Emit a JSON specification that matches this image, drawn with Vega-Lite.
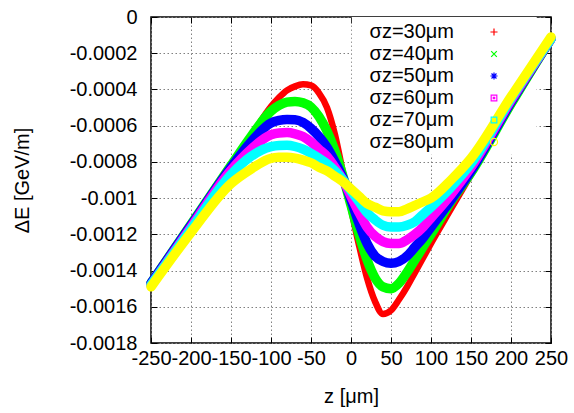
{
  "$schema": "https://vega.github.io/schema/vega-lite/v6.json",
  "width": 400,
  "height": 326,
  "autosize": {"type": "none"},
  "padding": {"left": 151, "top": 17, "right": 23, "bottom": 70},
  "background": "white",
  "config": {
    "view": {"stroke": "black", "strokeWidth": 1.5},
    "font": "Liberation Sans",
    "axis": {
      "labelFont": "Liberation Sans", "labelFontSize": 20, "labelColor": "black",
      "titleFont": "Liberation Sans", "titleFontSize": 20, "titleFontWeight": "normal", "titleColor": "black",
      "domain": false, "ticks": true, "tickSize": -6, "tickColor": "black", "tickWidth": 1, "grid": true, "gridColor": "#808080", "gridDash": [1.5, 2.5], "gridOpacity": 1, "gridWidth": 1,
      "labelOverlap": false, "labelFlush": false, "tickCount": 30
    },
    "legend": {
      "orient": "none", "legendX": 333, "legendY": 5, "labelAlign": "right", "labelOffset": -50,
      "labelFont": "Liberation Sans", "labelFontSize": 20, "labelColor": "black", "labelLimit": 0,
      "symbolSize": 50, "symbolStrokeWidth": 1.2, "symbolOpacity": 1, "symbolFillColor": "transparent", "rowPadding": 2, "title": null
    }
  },
  "resolve": {"axis": {"x": "independent", "y": "independent"}},
  "datasets": {
    "curves": [
      {"z": -250, "dE": -0.00147, "sigma": "σz=30μm"}, {"z": -200, "dE": -0.001145, "sigma": "σz=30μm"}, {"z": -150, "dE": -0.00082, "sigma": "σz=30μm"}, {"z": -125, "dE": -0.000658, "sigma": "σz=30μm"}, {"z": -100, "dE": -0.000495, "sigma": "σz=30μm"}, {"z": -90, "dE": -0.000445, "sigma": "σz=30μm"}, {"z": -80, "dE": -0.000405, "sigma": "σz=30μm"}, {"z": -70, "dE": -0.000383, "sigma": "σz=30μm"}, {"z": -60, "dE": -0.000372, "sigma": "σz=30μm"}, {"z": -50, "dE": -0.000378, "sigma": "σz=30μm"}, {"z": -40, "dE": -0.00042, "sigma": "σz=30μm"}, {"z": -30, "dE": -0.0005, "sigma": "σz=30μm"}, {"z": -20, "dE": -0.00065, "sigma": "σz=30μm"}, {"z": -10, "dE": -0.00086, "sigma": "σz=30μm"}, {"z": 0, "dE": -0.00106, "sigma": "σz=30μm"}, {"z": 10, "dE": -0.00126, "sigma": "σz=30μm"}, {"z": 20, "dE": -0.00144, "sigma": "σz=30μm"}, {"z": 30, "dE": -0.00157, "sigma": "σz=30μm"}, {"z": 40, "dE": -0.00164, "sigma": "σz=30μm"}, {"z": 50, "dE": -0.00162, "sigma": "σz=30μm"}, {"z": 60, "dE": -0.00156, "sigma": "σz=30μm"}, {"z": 70, "dE": -0.00149, "sigma": "σz=30μm"}, {"z": 80, "dE": -0.00141, "sigma": "σz=30μm"}, {"z": 90, "dE": -0.00133, "sigma": "σz=30μm"}, {"z": 100, "dE": -0.00125, "sigma": "σz=30μm"}, {"z": 125, "dE": -0.00106, "sigma": "σz=30μm"}, {"z": 150, "dE": -0.00087, "sigma": "σz=30μm"}, {"z": 200, "dE": -0.00049, "sigma": "σz=30μm"}, {"z": 250, "dE": -0.00013, "sigma": "σz=30μm"},
      {"z": -250, "dE": -0.00147, "sigma": "σz=40μm"}, {"z": -200, "dE": -0.001145, "sigma": "σz=40μm"}, {"z": -150, "dE": -0.00082, "sigma": "σz=40μm"}, {"z": -125, "dE": -0.00066, "sigma": "σz=40μm"}, {"z": -100, "dE": -0.00052, "sigma": "σz=40μm"}, {"z": -90, "dE": -0.000488, "sigma": "σz=40μm"}, {"z": -80, "dE": -0.00047, "sigma": "σz=40μm"}, {"z": -70, "dE": -0.000466, "sigma": "σz=40μm"}, {"z": -60, "dE": -0.000474, "sigma": "σz=40μm"}, {"z": -50, "dE": -0.000497, "sigma": "σz=40μm"}, {"z": -40, "dE": -0.00055, "sigma": "σz=40μm"}, {"z": -30, "dE": -0.00063, "sigma": "σz=40μm"}, {"z": -20, "dE": -0.00074, "sigma": "σz=40μm"}, {"z": -10, "dE": -0.00088, "sigma": "σz=40μm"}, {"z": 0, "dE": -0.00104, "sigma": "σz=40μm"}, {"z": 10, "dE": -0.0012, "sigma": "σz=40μm"}, {"z": 20, "dE": -0.00134, "sigma": "σz=40μm"}, {"z": 30, "dE": -0.00144, "sigma": "σz=40μm"}, {"z": 40, "dE": -0.00149, "sigma": "σz=40μm"}, {"z": 50, "dE": -0.0015, "sigma": "σz=40μm"}, {"z": 60, "dE": -0.00147, "sigma": "σz=40μm"}, {"z": 70, "dE": -0.00141, "sigma": "σz=40μm"}, {"z": 80, "dE": -0.00134, "sigma": "σz=40μm"}, {"z": 90, "dE": -0.00127, "sigma": "σz=40μm"}, {"z": 100, "dE": -0.0012, "sigma": "σz=40μm"}, {"z": 125, "dE": -0.00102, "sigma": "σz=40μm"}, {"z": 150, "dE": -0.00086, "sigma": "σz=40μm"}, {"z": 200, "dE": -0.00048, "sigma": "σz=40μm"}, {"z": 250, "dE": -0.00012, "sigma": "σz=40μm"},
      {"z": -250, "dE": -0.00147, "sigma": "σz=50μm"}, {"z": -200, "dE": -0.00115, "sigma": "σz=50μm"}, {"z": -150, "dE": -0.00083, "sigma": "σz=50μm"}, {"z": -125, "dE": -0.00069, "sigma": "σz=50μm"}, {"z": -100, "dE": -0.000585, "sigma": "σz=50μm"}, {"z": -90, "dE": -0.000571, "sigma": "σz=50μm"}, {"z": -80, "dE": -0.000566, "sigma": "σz=50μm"}, {"z": -70, "dE": -0.000567, "sigma": "σz=50μm"}, {"z": -60, "dE": -0.000582, "sigma": "σz=50μm"}, {"z": -50, "dE": -0.000615, "sigma": "σz=50μm"}, {"z": -40, "dE": -0.00066, "sigma": "σz=50μm"}, {"z": -30, "dE": -0.00072, "sigma": "σz=50μm"}, {"z": -20, "dE": -0.0008, "sigma": "σz=50μm"}, {"z": -10, "dE": -0.00089, "sigma": "σz=50μm"}, {"z": 0, "dE": -0.00101, "sigma": "σz=50μm"}, {"z": 10, "dE": -0.00114, "sigma": "σz=50μm"}, {"z": 20, "dE": -0.00125, "sigma": "σz=50μm"}, {"z": 30, "dE": -0.00132, "sigma": "σz=50μm"}, {"z": 40, "dE": -0.00135, "sigma": "σz=50μm"}, {"z": 50, "dE": -0.00136, "sigma": "σz=50μm"}, {"z": 60, "dE": -0.00135, "sigma": "σz=50μm"}, {"z": 70, "dE": -0.00132, "sigma": "σz=50μm"}, {"z": 80, "dE": -0.00127, "sigma": "σz=50μm"}, {"z": 90, "dE": -0.00122, "sigma": "σz=50μm"}, {"z": 100, "dE": -0.00116, "sigma": "σz=50μm"}, {"z": 125, "dE": -0.00101, "sigma": "σz=50μm"}, {"z": 150, "dE": -0.00085, "sigma": "σz=50μm"}, {"z": 200, "dE": -0.00047, "sigma": "σz=50μm"}, {"z": 250, "dE": -0.00012, "sigma": "σz=50μm"},
      {"z": -250, "dE": -0.00148, "sigma": "σz=60μm"}, {"z": -200, "dE": -0.00116, "sigma": "σz=60μm"}, {"z": -150, "dE": -0.000845, "sigma": "σz=60μm"}, {"z": -125, "dE": -0.00073, "sigma": "σz=60μm"}, {"z": -100, "dE": -0.00065, "sigma": "σz=60μm"}, {"z": -90, "dE": -0.00064, "sigma": "σz=60μm"}, {"z": -80, "dE": -0.000638, "sigma": "σz=60μm"}, {"z": -70, "dE": -0.000645, "sigma": "σz=60μm"}, {"z": -60, "dE": -0.00066, "sigma": "σz=60μm"}, {"z": -50, "dE": -0.00069, "sigma": "σz=60μm"}, {"z": -40, "dE": -0.00073, "sigma": "σz=60μm"}, {"z": -30, "dE": -0.00077, "sigma": "σz=60μm"}, {"z": -20, "dE": -0.00083, "sigma": "σz=60μm"}, {"z": -10, "dE": -0.0009, "sigma": "σz=60μm"}, {"z": 0, "dE": -0.00099, "sigma": "σz=60μm"}, {"z": 10, "dE": -0.00108, "sigma": "σz=60μm"}, {"z": 20, "dE": -0.00116, "sigma": "σz=60μm"}, {"z": 30, "dE": -0.00121, "sigma": "σz=60μm"}, {"z": 40, "dE": -0.00124, "sigma": "σz=60μm"}, {"z": 50, "dE": -0.00125, "sigma": "σz=60μm"}, {"z": 60, "dE": -0.00125, "sigma": "σz=60μm"}, {"z": 70, "dE": -0.00123, "sigma": "σz=60μm"}, {"z": 80, "dE": -0.0012, "sigma": "σz=60μm"}, {"z": 90, "dE": -0.00116, "sigma": "σz=60μm"}, {"z": 100, "dE": -0.00111, "sigma": "σz=60μm"}, {"z": 125, "dE": -0.00098, "sigma": "σz=60μm"}, {"z": 150, "dE": -0.00083, "sigma": "σz=60μm"}, {"z": 200, "dE": -0.00046, "sigma": "σz=60μm"}, {"z": 250, "dE": -0.00012, "sigma": "σz=60μm"},
      {"z": -250, "dE": -0.00148, "sigma": "σz=70μm"}, {"z": -200, "dE": -0.00117, "sigma": "σz=70μm"}, {"z": -150, "dE": -0.00087, "sigma": "σz=70μm"}, {"z": -125, "dE": -0.00077, "sigma": "σz=70μm"}, {"z": -100, "dE": -0.000716, "sigma": "σz=70μm"}, {"z": -90, "dE": -0.000709, "sigma": "σz=70μm"}, {"z": -80, "dE": -0.000708, "sigma": "σz=70μm"}, {"z": -70, "dE": -0.000715, "sigma": "σz=70μm"}, {"z": -60, "dE": -0.00073, "sigma": "σz=70μm"}, {"z": -50, "dE": -0.000753, "sigma": "σz=70μm"}, {"z": -40, "dE": -0.00078, "sigma": "σz=70μm"}, {"z": -30, "dE": -0.00081, "sigma": "σz=70μm"}, {"z": -20, "dE": -0.00085, "sigma": "σz=70μm"}, {"z": -10, "dE": -0.0009, "sigma": "σz=70μm"}, {"z": 0, "dE": -0.00096, "sigma": "σz=70μm"}, {"z": 10, "dE": -0.00102, "sigma": "σz=70μm"}, {"z": 20, "dE": -0.00108, "sigma": "σz=70μm"}, {"z": 30, "dE": -0.00112, "sigma": "σz=70μm"}, {"z": 40, "dE": -0.00115, "sigma": "σz=70μm"}, {"z": 50, "dE": -0.00116, "sigma": "σz=70μm"}, {"z": 60, "dE": -0.00116, "sigma": "σz=70μm"}, {"z": 70, "dE": -0.00115, "sigma": "σz=70μm"}, {"z": 80, "dE": -0.00113, "sigma": "σz=70μm"}, {"z": 90, "dE": -0.00109, "sigma": "σz=70μm"}, {"z": 100, "dE": -0.00105, "sigma": "σz=70μm"}, {"z": 125, "dE": -0.00094, "sigma": "σz=70μm"}, {"z": 150, "dE": -0.00081, "sigma": "σz=70μm"}, {"z": 200, "dE": -0.00045, "sigma": "σz=70μm"}, {"z": 250, "dE": -0.00012, "sigma": "σz=70μm"},
      {"z": -250, "dE": -0.00149, "sigma": "σz=80μm"}, {"z": -200, "dE": -0.00119, "sigma": "σz=80μm"}, {"z": -150, "dE": -0.00092, "sigma": "σz=80μm"}, {"z": -125, "dE": -0.00084, "sigma": "σz=80μm"}, {"z": -100, "dE": -0.00078, "sigma": "σz=80μm"}, {"z": -90, "dE": -0.000775, "sigma": "σz=80μm"}, {"z": -80, "dE": -0.000774, "sigma": "σz=80μm"}, {"z": -70, "dE": -0.000779, "sigma": "σz=80μm"}, {"z": -60, "dE": -0.00079, "sigma": "σz=80μm"}, {"z": -50, "dE": -0.000805, "sigma": "σz=80μm"}, {"z": -40, "dE": -0.00083, "sigma": "σz=80μm"}, {"z": -30, "dE": -0.00085, "sigma": "σz=80μm"}, {"z": -20, "dE": -0.00088, "sigma": "σz=80μm"}, {"z": -10, "dE": -0.00091, "sigma": "σz=80μm"}, {"z": 0, "dE": -0.00095, "sigma": "σz=80μm"}, {"z": 10, "dE": -0.00099, "sigma": "σz=80μm"}, {"z": 20, "dE": -0.00103, "sigma": "σz=80μm"}, {"z": 30, "dE": -0.00105, "sigma": "σz=80μm"}, {"z": 40, "dE": -0.00107, "sigma": "σz=80μm"}, {"z": 50, "dE": -0.001075, "sigma": "σz=80μm"}, {"z": 60, "dE": -0.001075, "sigma": "σz=80μm"}, {"z": 70, "dE": -0.00106, "sigma": "σz=80μm"}, {"z": 80, "dE": -0.00104, "sigma": "σz=80μm"}, {"z": 90, "dE": -0.00102, "sigma": "σz=80μm"}, {"z": 100, "dE": -0.001, "sigma": "σz=80μm"}, {"z": 125, "dE": -0.0009, "sigma": "σz=80μm"}, {"z": 150, "dE": -0.00078, "sigma": "σz=80μm"}, {"z": 200, "dE": -0.00044, "sigma": "σz=80μm"}, {"z": 250, "dE": -0.00011, "sigma": "σz=80μm"}
    ]
  },
  "data": {"name": "curves"},
  "layer": [
    {
      "data": {"values": [{}]},
      "mark": {"type": "rect", "fill": "white"},
      "encoding": {
        "x": {"datum": 1, "type": "quantitative", "scale": {"domain": [-250, 250], "nice": false, "zero": false},
          "axis": {"title": "z [μm]", "values": [-250, -200, -150, -100, -50, 0, 50, 100, 150, 200, 250], "tickCount": 30, "labelExpr": "'' + datum.value", "labelPadding": 11, "titlePadding": 18, "labelOverlap": false, "labelFlush": false}},
        "x2": {"datum": 232},
        "y": {"datum": 0, "type": "quantitative", "scale": {"domain": [-0.0018, 0], "nice": false, "zero": false},
          "axis": {"title": "ΔE [GeV/m]", "values": [-0.0018, -0.0016, -0.0014, -0.0012, -0.001, -0.0008, -0.0006, -0.0004, -0.0002, 0], "tickCount": 30, "labelExpr": "'' + datum.value", "labelPadding": 20, "titlePadding": 37, "labelOverlap": false, "labelFlush": false}},
        "y2": {"datum": -0.00076}
      }
    },
    {
      "mark": {"type": "point", "filled": false, "opacity": 0, "strokeWidth": 1.2, "size": 50},
      "encoding": {
        "x": {"field": "z", "type": "quantitative",
          "axis": {"orient": "top", "labels": false, "title": null, "grid": false, "values": [-250, -200, -150, -100, -50, 0, 50, 100, 150, 200, 250], "tickCount": 30}},
        "y": {"field": "dE", "type": "quantitative",
          "axis": {"orient": "right", "labels": false, "title": null, "grid": false, "values": [-0.0018, -0.0016, -0.0014, -0.0012, -0.001, -0.0008, -0.0006, -0.0004, -0.0002, 0], "tickCount": 30}},
        "color": {"field": "sigma", "type": "nominal",
          "scale": {"domain": ["σz=30μm", "σz=40μm", "σz=50μm", "σz=60μm", "σz=70μm", "σz=80μm"], "range": ["#ff0000", "#00ff00", "#0000ff", "#ff00ff", "#00ffff", "#ffff00"]},
          "legend": {"title": null, "symbolFillColor": "transparent", "symbolOpacity": 1, "symbolStrokeWidth": 1.2}},
        "shape": {"field": "sigma", "type": "nominal",
          "scale": {"domain": ["σz=30μm", "σz=40μm", "σz=50μm", "σz=60μm", "σz=70μm", "σz=80μm"], "range": ["M-1,0L1,0M0,-1L0,1", "M-0.8,-0.8L0.8,0.8M-0.8,0.8L0.8,-0.8", "M-1,0L1,0M0,-1L0,1M-0.7,-0.7L0.7,0.7M-0.7,0.7L0.7,-0.7", "M-0.8,-0.8H0.8V0.8H-0.8ZM-0.2,-0.2H0.2V0.2H-0.2Z", "M-0.8,-0.8H0.8V0.8H-0.8Z", "circle"]},
          "legend": {"title": null, "symbolFillColor": "transparent", "symbolOpacity": 1, "symbolStrokeWidth": 1.2}}
      }
    },
    {
      "transform": [{"filter": "datum.sigma == 'σz=30μm'"}],
      "mark": {"type": "line", "interpolate": "monotone", "strokeCap": "round", "strokeJoin": "round", "strokeWidth": 6.5, "color": "#ff0000"},
      "encoding": {
        "x": {"field": "z", "type": "quantitative", "axis": null},
        "y": {"field": "dE", "type": "quantitative", "axis": null},
        "detail": {"field": "sigma", "type": "nominal"}
      }
    },
    {
      "transform": [{"filter": "datum.sigma != 'σz=30μm'"}],
      "mark": {"type": "line", "interpolate": "monotone", "strokeCap": "round", "strokeJoin": "round", "strokeWidth": 9.5},
      "encoding": {
        "x": {"field": "z", "type": "quantitative", "axis": null},
        "y": {"field": "dE", "type": "quantitative", "axis": null},
        "stroke": {"field": "sigma", "type": "nominal",
          "scale": {"domain": ["σz=40μm", "σz=50μm", "σz=60μm", "σz=70μm", "σz=80μm"], "range": ["#00ff00", "#0000ff", "#ff00ff", "#00ffff", "#ffff00"]},
          "legend": null}
      }
    }
  ]
}
